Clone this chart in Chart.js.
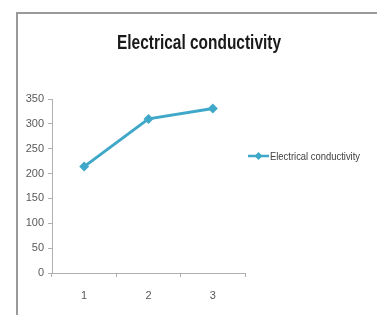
<!DOCTYPE html>
<html>
<head>
<meta charset="utf-8">
<script src="https://cdn.jsdelivr.net/npm/chart.js@4"></script>
<style>
  html, body { margin: 0; padding: 0; background: #fff; }
  #wrap { position: relative; width: 377px; height: 315px; overflow: hidden; }
  #frame { position: absolute; left: 16px; top: 12px; width: 400px; height: 400px;
           border-left: 2px solid #9a9a9a; border-top: 2px solid #9a9a9a; }
  canvas { position: absolute; left: 0; top: 0; }
</style>
</head>
<body>
<div id="wrap">
  <div id="frame"></div>
  <canvas id="c" width="377" height="315"></canvas>
</div>
<script>
const categories = ["1", "2", "3"];
const seriesName = "Electrical conductivity";
const conductivity = [214, 310, 331];
const titleText = "Electrical conductivity";
const yTicks = [0, 50, 100, 150, 200, 250, 300, 350];

const lineColor = "#3fa8c8";
const fontFam = "'Liberation Sans', sans-serif";

const decorPlugin = {
  id: "decor",
  afterDraw(chart) {
    const ctx = chart.ctx;
    const ca = chart.chartArea;
    ctx.save();
    // title
    ctx.fillStyle = "#1a1a1a";
    ctx.font = "bold 20px " + fontFam;
    ctx.textAlign = "center";
    ctx.textBaseline = "middle";
    ctx.fillText(titleText, 199, 43, 164);
    // legend
    const x0 = ca.right + 3, y = 156;
    ctx.strokeStyle = lineColor;
    ctx.lineWidth = 2.5;
    ctx.beginPath();
    ctx.moveTo(x0, y);
    ctx.lineTo(x0 + 21, y);
    ctx.stroke();
    ctx.fillStyle = lineColor;
    const cx = x0 + 10.5, r = 4;
    ctx.beginPath();
    ctx.moveTo(cx, y - r); ctx.lineTo(cx + r, y); ctx.lineTo(cx, y + r); ctx.lineTo(cx - r, y);
    ctx.closePath(); ctx.fill();
    ctx.fillStyle = "#404040";
    ctx.font = "11px " + fontFam;
    ctx.textAlign = "left";
    ctx.fillText(seriesName, x0 + 22, y + 0.5, 90);
    ctx.restore();
  }
};

new Chart(document.getElementById("c"), {
  type: "line",
  data: {
    labels: categories,
    datasets: [{
      label: seriesName,
      data: conductivity,
      borderColor: lineColor,
      backgroundColor: lineColor,
      borderWidth: 3,
      pointStyle: "rectRot",
      pointRadius: 5,
      pointBorderWidth: 0,
      tension: 0
    }]
  },
  options: {
    responsive: false,
    animation: false,
    devicePixelRatio: 1,
    layout: { padding: { left: 0, right: 132, top: 99, bottom: 0 } },
    plugins: {
      legend: { display: false },
      tooltip: { enabled: false },
      title: { display: false }
    },
    scales: {
      x: {
        offset: true,
        grid: { offset: true, drawOnChartArea: false, drawTicks: true, tickLength: 4, color: "#b0b0b0" },
        border: { color: "#b0b0b0", width: 1 },
        ticks: { color: "#595959", font: { family: fontFam, size: 11 }, padding: 12 },
        afterFit(s) { s.height = 42; }
      },
      y: {
        min: 0, max: 350,
        afterBuildTicks(s) { s.ticks = yTicks.map(v => ({ value: v })); },
        grid: { drawOnChartArea: false, drawTicks: true, tickLength: 4, color: "#b0b0b0" },
        border: { color: "#b0b0b0", width: 1 },
        ticks: { color: "#595959", font: { family: fontFam, size: 11 }, padding: 4 },
        afterFit(s) { s.width = 52; }
      }
    }
  },
  plugins: [decorPlugin]
});
</script>
</body>
</html>
